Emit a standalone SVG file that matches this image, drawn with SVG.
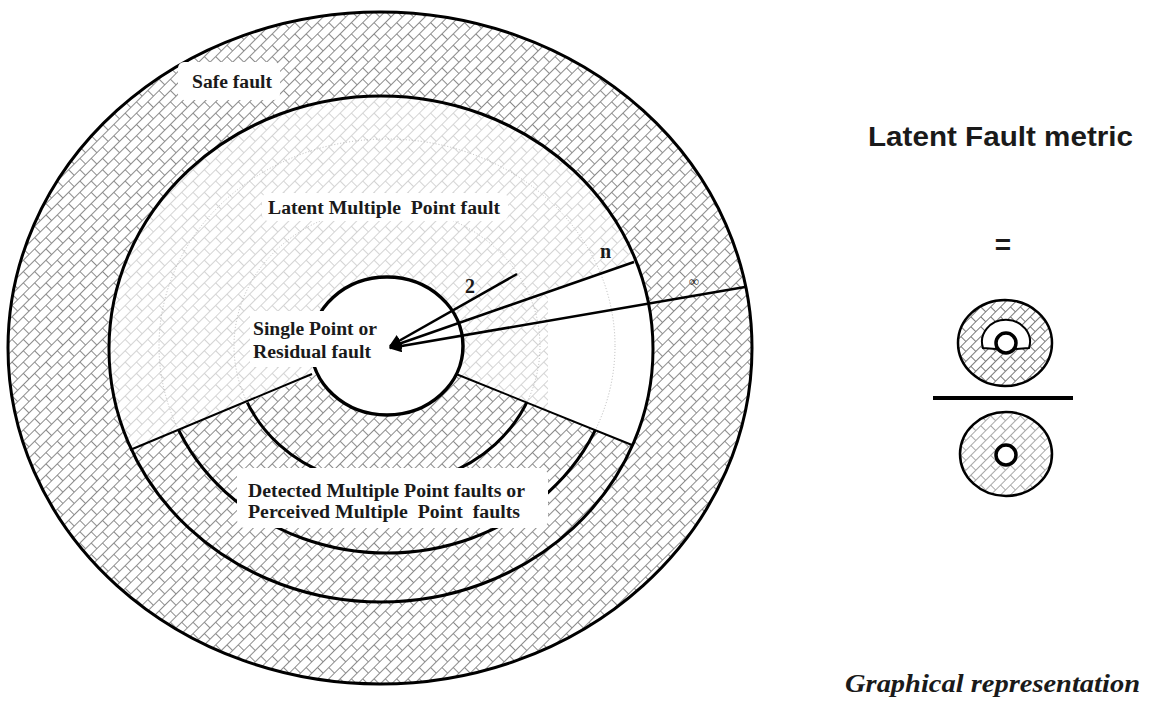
<svg xmlns="http://www.w3.org/2000/svg" width="1158" height="701" viewBox="0 0 1158 701">
<style>
.ser{font-family:"Liberation Serif","Times New Roman",serif;font-weight:bold;fill:#1a1a1a}
.lbl{font-size:18.5px}
.edge{fill:none;stroke:#000;stroke-width:3}
.thin{fill:none;stroke:#000;stroke-width:2}
.box{fill:#fff;stroke:none}
.dot{fill:none;stroke:#b8b8b8;stroke-width:1;stroke-dasharray:1 2}
</style>
<defs>
<pattern id="hDark" width="16" height="16" patternUnits="userSpaceOnUse" patternTransform="rotate(-45)">
<rect width="16" height="16" fill="#fff"/>
<path d="M0 0.5H16M0 8.5H16M0.5 0.5V8.5M8.5 8.5V16" stroke="#8c8c8c" stroke-width="1" fill="none"/>
</pattern>
<pattern id="hLight" width="16" height="16" patternUnits="userSpaceOnUse" patternTransform="rotate(-45)">
<rect width="16" height="16" fill="#fff"/>
<path d="M0 0.5H16M0 8.5H16M0.5 0.5V8.5M8.5 8.5V16" stroke="#d4d4d4" stroke-width="1" fill="none"/>
</pattern>
<pattern id="hMid" width="14" height="14" patternUnits="userSpaceOnUse" patternTransform="rotate(-45)">
<rect width="14" height="14" fill="#fff"/>
<path d="M0 0.5H14M0 7.5H14M0.5 0.5V7.5M7.5 7.5V14" stroke="#a8a8a8" stroke-width="1" fill="none"/>
</pattern>
<pattern id="hIcon" width="14" height="14" patternUnits="userSpaceOnUse" patternTransform="rotate(-45)">
<rect width="14" height="14" fill="#fff"/>
<path d="M0 0.5H14M0 7.5H14M0.5 0.5V7.5M7.5 7.5V14" stroke="#7a7a7a" stroke-width="1" fill="none"/>
</pattern>
<clipPath id="midClip"><ellipse cx="381" cy="349" rx="272" ry="253"/></clipPath>
<clipPath id="sectorClip"><polygon points="387,346 1.5,502 1.5,701 760,701 754.5,494.5"/></clipPath>
<marker id="ah" viewBox="0 0 10 10" refX="9" refY="5" markerWidth="5" markerHeight="5" orient="auto" markerUnits="strokeWidth">
<path d="M0,0 L10,5 L0,10 z" fill="#000"/>
</marker>
</defs>

<g id="safe-ring">
<ellipse cx="380" cy="348" rx="372" ry="336" fill="url(#hDark)" stroke="#000" stroke-width="3"/>
<rect class="box" x="178" y="62" width="102" height="38" rx="6"/>
<text class="ser lbl" x="192" y="88" textLength="80" lengthAdjust="spacingAndGlyphs">Safe fault</text>
</g>

<g id="latent-region">
<ellipse cx="381" cy="349" rx="272" ry="253" fill="url(#hLight)"/>
<polygon points="548,292 634,262 660,262 660,460 548,420" fill="#fff" clip-path="url(#midClip)"/>
<ellipse class="dot" cx="387" cy="346" rx="153" ry="139"/>
<ellipse class="dot" cx="387" cy="346" rx="228" ry="207"/>
</g>

<g id="detected-sector">
<polygon points="387,346 1.5,502 1.5,701 760,701 754.5,494.5" fill="url(#hDark)" clip-path="url(#midClip)"/>
<g clip-path="url(#sectorClip)">
<ellipse class="edge" cx="387" cy="346" rx="153" ry="139"/>
<ellipse class="edge" cx="387" cy="346" rx="228" ry="207"/>
</g>
<line class="thin" x1="312" y1="374" x2="130" y2="450"/>
<line class="thin" x1="456" y1="374" x2="632" y2="445"/>
</g>

<g id="latent-boundary">
<ellipse class="edge" cx="381" cy="349" rx="272" ry="253"/>
<rect class="box" x="262" y="193" width="246" height="28" rx="6"/>
<text class="ser lbl" x="268" y="214" textLength="232" lengthAdjust="spacingAndGlyphs" xml:space="preserve">Latent Multiple  Point fault</text>
</g>

<g id="single-point">
<ellipse cx="387" cy="346" rx="76" ry="69" fill="#fff" stroke="#000" stroke-width="3.5"/>
<rect class="box" x="250" y="311" width="130" height="56" rx="4"/>
<text class="ser lbl" x="253" y="335" textLength="124" lengthAdjust="spacingAndGlyphs">Single Point or</text>
<text class="ser lbl" x="253" y="358" textLength="118" lengthAdjust="spacingAndGlyphs">Residual fault</text>
</g>

<g id="detected-label">
<rect class="box" x="237" y="468" width="311" height="60" rx="8"/>
<text class="ser lbl" x="248" y="497" textLength="277" lengthAdjust="spacingAndGlyphs">Detected Multiple Point faults or</text>
<text class="ser lbl" x="248" y="518" textLength="272" lengthAdjust="spacingAndGlyphs" xml:space="preserve">Perceived Multiple  Point  faults</text>
</g>

<g id="connectors">
<line x1="517" y1="274" x2="390" y2="346" stroke="#000" stroke-width="2.5" marker-end="url(#ah)"/>
<line x1="634" y1="262" x2="390" y2="347" stroke="#000" stroke-width="2.5" marker-end="url(#ah)"/>
<line x1="745" y1="287" x2="390" y2="348" stroke="#000" stroke-width="2.5" marker-end="url(#ah)"/>
<text class="ser" x="465" y="293" font-size="20">2</text>
<text class="ser" x="600" y="258" font-size="20">n</text>
<text class="ser" x="689" y="286" font-size="14" font-weight="normal">∞</text>
</g>

<g id="metric-title">
<text x="868" y="146" font-family="Liberation Sans, Arial, sans-serif" font-weight="bold" font-size="27" fill="#1a1a1a" textLength="265" lengthAdjust="spacingAndGlyphs">Latent Fault metric</text>
<text x="1003" y="254" text-anchor="middle" font-family="Liberation Sans, Arial, sans-serif" font-weight="bold" font-size="28" fill="#1a1a1a">=</text>
</g>

<g id="numerator-icon">
<ellipse cx="1005" cy="343" rx="47" ry="43" fill="url(#hIcon)" stroke="#000" stroke-width="2.5"/>
<path d="M983 348 A24 22 0 1 1 1029 348 L1016 349 A12 12 0 0 0 996 349 Z" fill="#fff" stroke="#000" stroke-width="2"/>
<circle cx="1006" cy="343" r="10" fill="#fff" stroke="#000" stroke-width="3.5"/>
</g>

<line id="fraction-bar" x1="933" y1="398" x2="1073" y2="398" stroke="#000" stroke-width="4"/>

<g id="denominator-icon">
<ellipse cx="1006" cy="454" rx="46" ry="42" fill="url(#hMid)" stroke="#000" stroke-width="2.5"/>
<circle cx="1006" cy="455" r="10" fill="#fff" stroke="#000" stroke-width="3.5"/>
</g>

<text id="caption" x="845" y="692" font-family="Liberation Serif, 'Times New Roman', serif" font-weight="bold" font-style="italic" font-size="26" fill="#1a1a1a" textLength="295" lengthAdjust="spacingAndGlyphs">Graphical representation</text>
</svg>
